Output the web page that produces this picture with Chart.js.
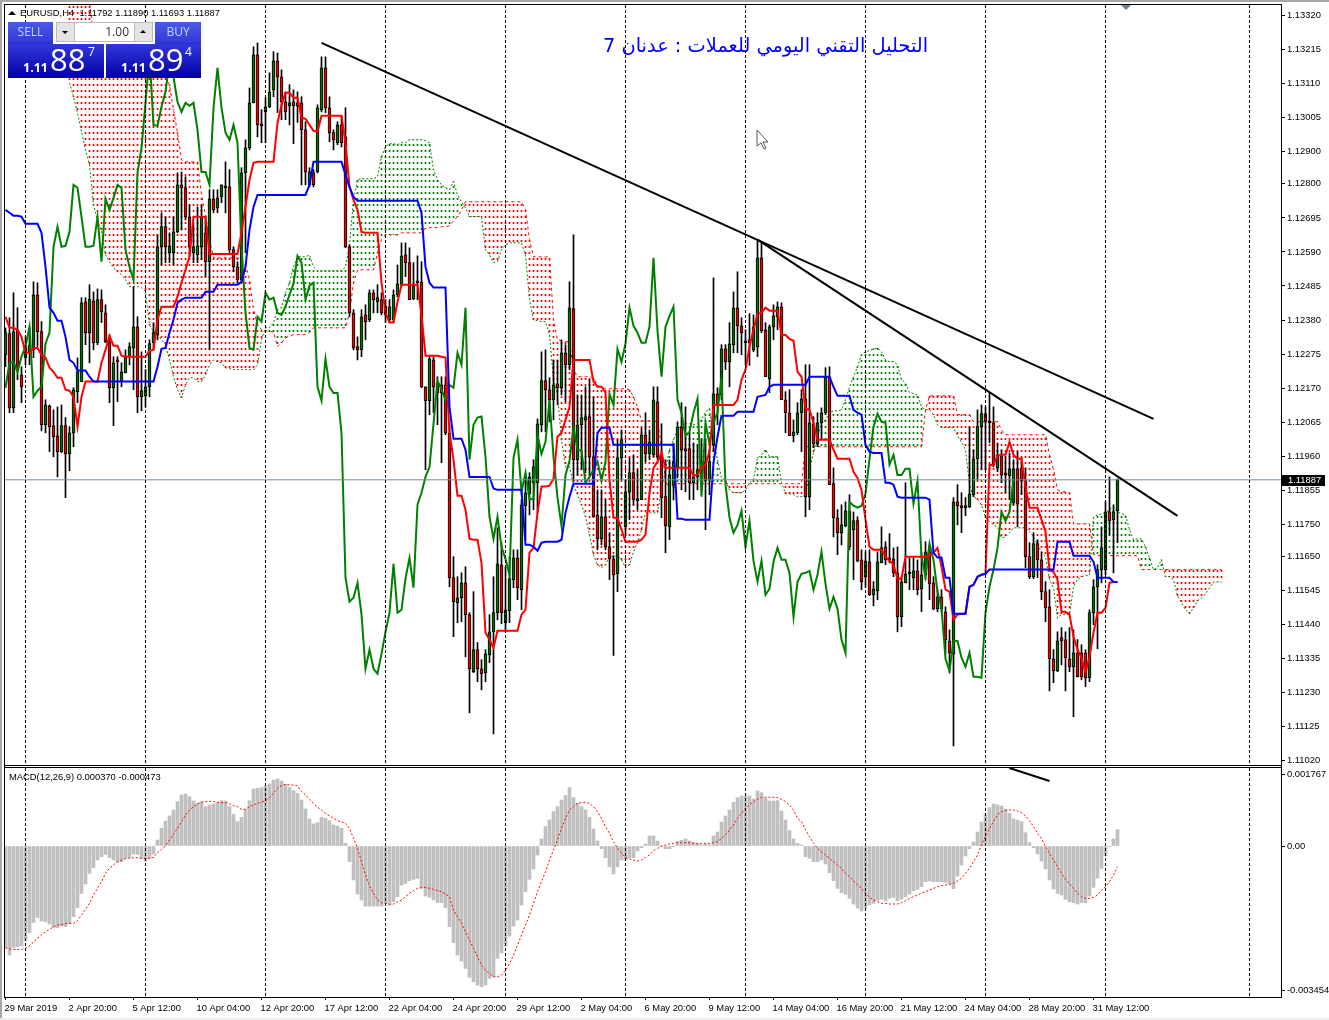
<!DOCTYPE html>
<html><head><meta charset="utf-8">
<script src="https://cdn.jsdelivr.net/npm/chart.js@4"></script>
<style>
html,body{margin:0;padding:0;background:#fff;overflow:hidden;width:1329px;height:1020px}
*{box-sizing:border-box}
canvas{position:absolute;left:0}
.abs{position:absolute}
.ln{position:absolute;background:#000}
.t{font-family:"Liberation Sans",sans-serif;font-size:9.4px;color:#000;white-space:pre;position:absolute;line-height:11px}
.p{font-family:"Open Sans",sans-serif;position:absolute;color:#fff;line-height:1;white-space:pre}
</style></head><body>
<canvas id="main" width="1329" height="766" style="top:0px"></canvas>
<canvas id="sub" width="1329" height="252" style="top:768px"></canvas>
<div class="abs" style="left:0;top:0;width:1329px;height:2px;background:#a8a8a8"></div>
<div class="abs" style="left:0;top:0;width:2px;height:1020px;background:#a8a8a8"></div>
<div class="abs" style="left:0;top:1018px;width:1329px;height:2px;background:#eeeeee"></div>
<div class="ln" style="left:4px;top:4px;width:1278px;height:1px"></div>
<div class="ln" style="left:4px;top:4px;width:1px;height:994px"></div>
<div class="ln" style="left:1281px;top:4px;width:1px;height:994px"></div>
<div class="ln" style="left:4px;top:765px;width:1278px;height:1px"></div>
<div class="ln" style="left:4px;top:767px;width:1278px;height:1px"></div>
<div class="ln" style="left:4px;top:997px;width:1278px;height:1px"></div>
<div class="abs" style="left:1121px;top:5px;width:0;height:0;border-left:5px solid transparent;border-right:5px solid transparent;border-top:5px solid #708090"></div>
<div class="abs" style="left:8px;top:11px;width:0;height:0;border-left:4px solid transparent;border-right:4px solid transparent;border-bottom:4px solid #000"></div>
<div class="t" id="hdr" style="left:20px;top:7px"></div>
<div class="t" id="mlabel" style="left:9px;top:771px"></div>
<div class="abs" dir="rtl" id="title" style="left:600px;top:29px;width:331px;text-align:center;font-family:'DejaVu Sans',sans-serif;font-size:19.4px;color:#0000ff;white-space:nowrap;line-height:34px"></div>
<svg class="abs" style="left:755px;top:128px" width="16" height="22"><path d="M2 2 L2 18 L6 15 L9 21 L11 20 L8 14 L13 14 Z" fill="#fff" stroke="#555" stroke-width="1"/></svg>
<div class="abs" style="left:8px;top:22px;width:193px;height:56px;background:#fff"></div>
<div class="abs" style="left:8px;top:22px;width:45px;height:22px;background:linear-gradient(#4a5ae8,#3238d8);border-bottom:1px solid #2a30c0"></div>
<div class="p" style="left:8px;top:26px;width:45px;text-align:center;font-size:12px;color:#c8d4ff">SELL</div>
<div class="abs" style="left:155px;top:22px;width:46px;height:22px;background:linear-gradient(#4a5ae8,#3238d8);border-bottom:1px solid #2a30c0"></div>
<div class="p" style="left:155px;top:26px;width:46px;text-align:center;font-size:12px;color:#c8d4ff">BUY</div>
<div class="abs" style="left:56px;top:22px;width:97px;height:20px;border:1px solid #bbb;background:#fff"></div>
<div class="abs" style="left:57px;top:23px;width:18px;height:18px;background:#e4e4e4;border-right:1px solid #bbb"></div>
<div class="abs" style="left:134px;top:23px;width:18px;height:18px;background:#e4e4e4;border-left:1px solid #bbb"></div>
<div class="abs" style="left:62px;top:31px;width:0;height:0;border-left:3px solid transparent;border-right:3px solid transparent;border-top:3px solid #000"></div>
<div class="abs" style="left:140px;top:30px;width:0;height:0;border-left:3px solid transparent;border-right:3px solid transparent;border-bottom:3px solid #000"></div>
<div class="p" style="left:76px;top:26px;width:53px;text-align:right;font-size:12px;color:#333">1.00</div>
<div class="abs" style="left:8px;top:44px;width:96px;height:34px;background:linear-gradient(#3338dc,#0000a4)"></div>
<div class="abs" style="left:106px;top:44px;width:95px;height:34px;background:linear-gradient(#3338dc,#0000a4)"></div>
<div class="p" style="left:23px;top:62px;font-size:12.5px;font-weight:700">1.11</div>
<div class="p" style="left:50px;top:44px;font-size:31px">88</div>
<div class="p" style="left:88px;top:46px;font-size:12px">7</div>
<div class="p" style="left:121px;top:62px;font-size:12.5px;font-weight:700">1.11</div>
<div class="p" style="left:148px;top:44px;font-size:31px">89</div>
<div class="p" style="left:185px;top:46px;font-size:12px">4</div>
<script>
// Prices are held in points above 1.11000 (1 point = 0.00001)
const BASE = 1.11, POINT = 1e-5;
const bidPrice = 1.11887;
const priceTicks = ['1.13320','1.13215','1.13110','1.13005','1.12900','1.12800','1.12695','1.12590','1.12485','1.12380','1.12275','1.12170','1.12065','1.11960','1.11855','1.11750','1.11650','1.11545','1.11440','1.11335','1.11230','1.11125','1.11020'];
const dateLabels = ['29 Mar 2019','2 Apr 20:00','5 Apr 12:00','10 Apr 04:00','12 Apr 20:00','17 Apr 12:00','22 Apr 04:00','24 Apr 20:00','29 Apr 12:00','2 May 04:00','6 May 20:00','9 May 12:00','14 May 04:00','16 May 20:00','21 May 12:00','24 May 04:00','28 May 20:00','31 May 12:00'];
const dateTickBars = [0,16,32,48,64,80,96,112,128,144,160,176,192,208,224,240,256,272];
const separatorBars = [5,35,65,95,125,155,185,215,245,275,311];
const macdTickLabels = ['0.001767','0.00','-0.003454'];
const macdTickAt = [0.00163,0,-0.00329];

const opens = [1273,1338,1109,1350,1211,1264,1282,1288,1458,1344,
1057,1115,1054,1023,974,1054,967,1032,1159,1190,
1436,1341,1439,1310,1443,1402,1313,1171,1257,1190,
1217,1267,1294,1359,1143,1146,1174,1310,1335,1606,
1668,1588,1588,1652,1797,1788,1698,1588,1581,1606,
1649,1560,1754,1726,1760,1794,1791,1597,1544,1504,
1834,1911,2050,2198,1982,2022,2038,2090,2180,2130,
2053,2041,2053,2041,2050,1967,1797,1834,1837,2029,
2158,2035,1958,1927,1982,1945,1606,1402,1298,1288,
1396,1381,1464,1436,1443,1424,1381,1381,1458,1489,
1581,1557,1446,1501,1498,1174,1131,1257,1186,1180,
1180,1032,585,508,523,569,471,295,363,304,
292,347,418,477,625,446,483,579,646,548,
807,844,878,878,1057,1193,1165,1134,1183,1171,
1279,1242,1415,949,1057,1072,1082,958,779,705,
773,680,643,597,955,742,850,909,822,826,
1026,967,964,1128,958,835,742,870,924,1050,
983,983,878,896,915,943,887,995,1152,1149,
1291,1251,1304,1418,1362,1316,1320,1288,1298,1572,
1350,1199,1359,1390,1421,1134,1094,1023,1032,1094,
1137,835,1060,998,1063,1094,1205,875,770,724,
745,791,733,761,640,588,634,532,545,631,
680,646,643,600,464,569,597,585,606,551,
594,665,569,489,526,480,390,350,819,807,
801,804,841,952,1051,1091,1066,1063,924,961,
906,900,816,921,924,884,650,588,690,640,
542,495,335,298,400,394,335,310,353,353,
353,276,477,557,610,610,788,764,792];
const highs = [1356,1387,1464,1418,1236,1328,1356,1498,1495,1375,
1134,1118,1103,1112,1118,1079,1051,1171,1263,1449,
1449,1489,1467,1476,1473,1427,1335,1267,1267,1248,
1288,1310,1483,1390,1282,1227,1319,1372,1643,1711,
1698,1649,1698,1834,1837,1822,1735,1674,1729,1735,
1698,1782,1782,1782,1797,1868,1844,1606,1560,1850,
1936,2096,2223,2235,2029,2066,2143,2208,2204,2152,
2084,2106,2090,2084,2069,1992,1850,1844,2044,2192,
2192,2069,1967,1992,2007,2035,1612,1412,1328,1412,
1427,1473,1473,1489,1464,1443,1443,1473,1550,1618,
1618,1603,1557,1578,1560,1174,1267,1267,1205,1205,
1205,1057,650,588,600,619,477,542,385,332,
363,471,588,739,693,619,650,671,671,826,
896,909,949,1075,1282,1288,1202,1257,1257,1319,
1304,1498,1643,1149,1149,1174,1196,1143,856,856,
826,724,653,1011,1041,887,955,964,918,1047,
1094,1041,1174,1174,1060,949,949,1000,1066,1125,
1112,1032,1001,995,1011,1011,980,1510,1171,1304,
1304,1372,1467,1529,1387,1350,1400,1396,1628,1618,
1372,1365,1427,1436,1433,1159,1165,1072,1125,1165,
1242,1242,1082,1094,1109,1233,1236,924,795,810,
819,841,788,773,671,665,671,573,665,742,
696,721,677,680,588,878,646,646,640,662,
696,686,588,548,548,495,424,832,872,847,
832,1051,980,1103,1118,1112,1155,1112,1001,980,
958,970,949,974,955,924,693,724,702,665,
573,548,363,418,431,418,431,424,394,378,
363,486,579,625,742,820,896,810,890];
const lows = [1236,1094,1094,1196,1125,1242,1242,1264,1298,1038,
1032,974,958,896,971,832,915,989,1125,1190,
1304,1248,1288,1304,1372,1310,1125,1054,1128,1174,
1217,1242,1165,1094,1100,1112,1143,1288,1319,1550,
1557,1557,1550,1649,1658,1689,1575,1557,1557,1566,
1514,1288,1711,1711,1742,1711,1588,1529,1495,1495,
1588,1905,2050,1945,1927,1927,2035,2069,2020,1998,
1998,1982,1924,1990,1797,1797,1791,1791,1834,2022,
2020,1930,1905,1921,1914,1603,1390,1288,1257,1267,
1319,1375,1402,1402,1396,1372,1372,1372,1452,1483,
1514,1443,1443,1443,1171,918,1088,1094,1057,940,
1026,557,403,446,449,341,168,292,264,239,
264,323,103,455,443,418,446,554,517,486,
702,779,795,785,1035,1035,1066,1072,1118,1149,
1128,1227,883,902,918,909,902,773,671,686,
671,579,345,542,887,717,764,810,795,826,
943,949,958,949,770,662,702,825,893,856,
850,826,826,856,856,733,841,974,1057,1134,
1227,1174,1279,1279,1273,1242,1240,1282,1267,1341,
1205,1156,1319,1350,1134,1032,1023,1004,1026,974,
773,795,986,989,1011,1088,872,711,656,686,
742,671,579,634,548,554,530,498,517,631,
625,631,588,418,434,569,548,548,532,480,
579,517,486,480,480,347,292,66,748,724,
776,801,835,887,918,918,1001,927,912,878,
847,826,810,742,841,616,582,582,585,517,
449,236,261,295,316,236,295,156,279,270,
249,264,440,366,569,594,717,600,693];
const closes = [1341,1109,1344,1227,1174,1298,1303,1458,1344,1057,
1118,1051,1020,974,1054,967,1032,1165,1220,1433,
1341,1445,1310,1443,1405,1313,1171,1248,1251,1220,
1267,1298,1359,1143,1162,1174,1307,1341,1606,1668,
1606,1609,1652,1797,1788,1698,1606,1606,1609,1698,
1560,1754,1720,1757,1797,1788,1597,1544,1504,1834,
1911,2050,2198,1982,1979,2038,2084,2180,2130,2053,
2022,2050,2041,2050,1967,1837,1837,1797,2035,2158,
2035,1958,1936,1982,1927,1606,1402,1294,1288,1390,
1375,1464,1443,1449,1402,1396,1421,1458,1492,1578,
1557,1443,1486,1495,1174,1131,1260,1174,1155,1155,
1032,585,511,523,569,471,304,363,304,289,
350,418,477,628,477,486,582,646,554,810,
847,896,927,1060,1193,1165,1134,1180,1171,1279,
1242,1418,949,1057,1079,1082,958,773,705,773,
680,643,594,955,1011,850,909,826,829,1026,
967,1004,1134,958,832,745,902,945,1050,980,
977,878,896,918,943,884,943,1152,1118,1291,
1251,1307,1418,1362,1341,1310,1310,1359,1572,1347,
1205,1359,1393,1421,1134,1094,1023,1035,1094,1137,
835,1063,998,1063,1094,1205,872,770,724,748,
791,680,761,637,573,637,532,551,634,677,
640,640,600,464,572,597,600,606,548,594,
665,566,489,526,489,394,353,819,807,801,
807,844,952,1051,1091,1066,1063,934,964,902,
902,921,921,813,884,650,588,690,640,542,
492,335,298,390,390,338,310,353,279,279,
276,477,557,610,677,788,760,788,887];
const tenkan = [1390,1356,1356,1350,1328,1279,1279,1294,1294,1273,
1264,1233,1220,1202,1202,1165,1162,1143,1051,1143,
1190,1190,1190,1190,1248,1288,1331,1301,1301,1270,
1267,1267,1267,1267,1267,1267,1285,1288,1381,1421,
1421,1421,1421,1452,1495,1535,1575,1699,1699,1699,
1699,1584,1584,1584,1584,1584,1584,1584,1584,1649,
1729,1813,1865,1868,1868,1868,1868,1868,1988,2044,
2081,2081,2066,2066,2004,2001,1982,1964,1961,2010,
2010,2010,2010,2010,2010,1927,1791,1751,1720,1652,
1649,1649,1649,1649,1495,1402,1372,1372,1436,1489,
1489,1489,1489,1489,1396,1270,1270,1270,1270,1267,
1264,1032,949,838,838,795,705,702,702,631,
415,394,369,421,421,421,421,421,421,471,
486,662,677,785,866,866,869,890,1020,1032,
1072,1112,1257,1257,1257,1257,1257,1190,1174,1174,
1156,887,770,770,733,696,696,696,696,702,
718,847,924,943,970,924,924,924,924,924,
924,924,900,903,927,933,974,1118,1118,1118,
1118,1118,1118,1134,1196,1227,1298,1350,1399,1402,
1418,1409,1409,1409,1334,1334,1322,1316,1220,1205,
1106,1103,1063,1011,1011,1011,1011,980,952,952,
952,952,912,893,856,764,680,671,671,671,
650,637,625,582,582,650,650,650,650,650,
650,655,662,677,619,548,542,455,471,474,
474,557,563,588,594,597,933,933,961,964,
964,1004,964,952,952,866,801,801,801,764,
727,610,603,579,480,480,471,403,363,338,
292,341,415,477,477,492,569,572,572];
const kijun = [1720,1711,1702,1702,1699,1677,1677,1677,1677,1649,
1544,1418,1402,1378,1378,1328,1257,1248,1224,1224,
1224,1205,1190,1190,1190,1190,1190,1190,1190,1190,
1190,1190,1190,1190,1190,1190,1190,1190,1236,1291,
1294,1341,1381,1433,1443,1449,1449,1449,1449,1449,
1467,1467,1467,1489,1489,1489,1489,1489,1489,1498,
1544,1658,1729,1766,1766,1766,1766,1766,1766,1766,
1766,1766,1766,1766,1766,1766,1797,1868,1868,1868,
1868,1868,1868,1868,1868,1828,1791,1760,1748,1748,
1748,1748,1748,1748,1748,1748,1748,1748,1748,1748,
1748,1748,1748,1748,1711,1544,1495,1480,1480,1480,
1480,1112,1014,1014,1014,980,896,896,896,896,
896,896,860,856,856,856,856,856,856,856,
687,687,680,668,693,696,696,696,696,702,
785,835,875,875,875,875,875,875,1032,1048,
1048,1048,995,995,995,995,995,995,995,995,
995,995,995,995,995,995,995,995,767,767,
764,764,764,764,764,764,764,940,1020,1085,
1085,1085,1085,1097,1097,1097,1097,1097,1143,1146,
1149,1174,1180,1180,1180,1180,1180,1180,1180,1180,
1180,1205,1205,1205,1205,1205,1205,1174,1146,1146,
1146,1146,1103,1094,1088,995,974,970,970,970,
878,878,872,835,832,832,832,832,832,832,
832,826,662,647,647,585,585,474,474,474,
474,557,563,588,594,597,610,610,610,610,
610,610,610,610,610,610,610,610,610,610,
610,610,610,696,696,696,696,653,653,653,
653,653,634,585,585,585,585,572,572];
const chikou = [1171,1248,1251,1220,1267,1298,1359,1143,1162,1174,
1307,1341,1606,1668,1606,1609,1652,1797,1788,1698,
1606,1606,1609,1698,1560,1754,1720,1757,1797,1788,
1597,1544,1504,1834,1911,2050,2198,1982,1979,2038,
2084,2180,2130,2053,2022,2050,2041,2050,1967,1837,
1837,1797,2035,2158,2035,1958,1936,1982,1927,1606,
1402,1294,1288,1390,1375,1464,1443,1449,1402,1396,
1421,1458,1492,1578,1557,1443,1486,1495,1174,1131,
1260,1174,1155,1155,1032,585,511,523,569,471,
304,363,304,289,350,418,477,628,477,486,
582,646,554,810,847,896,927,1060,1193,1165,
1134,1180,1171,1279,1242,1418,949,1057,1079,1082,
958,773,705,773,680,643,594,955,1011,850,
909,826,829,1026,967,1004,1134,958,832,745,
902,945,1050,980,977,878,896,918,943,884,
943,1152,1118,1291,1251,1307,1418,1362,1341,1310,
1310,1359,1572,1347,1205,1359,1393,1421,1134,1094,
1023,1035,1094,1137,835,1063,998,1063,1094,1205,
872,770,724,748,791,680,761,637,573,637,
532,551,634,677,640,640,600,464,572,597,
600,606,548,594,665,566,489,526,489,394,
353,819,807,801,807,844,952,1051,1091,1066,
1063,934,964,902,902,921,921,813,884,650,
588,690,640,542,492,335,298,390,390,338,
310,353,279,279,276,477,557,610,677,788,
760,788,887];
const spanA = [null,null,null,null,null,null,null,null,null,null,
null,null,null,null,null,null,2112,2069,2019,1961,
1905,1859,1736,1689,1652,1581,1560,1541,1529,1520,
1504,1483,1483,1483,1480,1467,1365,1344,1335,1319,
1304,1257,1205,1165,1140,1180,1202,1202,1190,1190,
1211,1242,1257,1251,1248,1233,1230,1227,1227,1227,
1227,1227,1227,1242,1319,1356,1356,1372,1412,1418,
1464,1495,1544,1575,1575,1575,1581,1544,1532,1532,
1532,1532,1532,1532,1532,1544,1612,1751,1813,1816,
1816,1816,1816,1822,1884,1915,1924,1924,1921,1927,
1927,1936,1936,1936,1936,1933,1927,1844,1813,1797,
1788,1782,1807,1766,1745,1726,1699,1699,1699,1699,
1597,1581,1557,1560,1597,1612,1618,1618,1618,1618,
1581,1443,1381,1378,1375,1375,1335,1196,1149,1011,
927,927,872,841,810,773,718,656,625,616,
625,650,650,653,640,616,625,665,693,733,
785,785,785,785,856,918,980,1011,1041,1057,
1060,1060,1057,1060,1072,1097,1106,1011,949,893,
887,856,847,847,847,856,878,887,955,964,
980,958,958,958,878,844,844,841,835,835,
835,918,970,1020,1063,1072,1094,1100,1100,1103,
1134,1174,1205,1236,1273,1282,1285,1291,1294,1282,
1257,1251,1251,1242,1196,1186,1156,1153,1149,1112,
1103,1103,1088,1057,1048,1048,1048,1048,1023,1004,
980,872,835,826,810,770,758,748,742,708,
711,724,739,739,739,739,727,711,687,665,
650,579,554,461,471,471,471,557,579,588,
591,594,770,779,782,785,795,804,788,782,
779,733,702,705,705,680,646,610,616,640,
588,588,579,529,508,486,474,492,514,523,
535,554,572,572,572];
const spanB = [null,null,null,null,null,null,null,null,null,null,
null,null,null,null,null,null,2370,2370,2370,2370,
2370,2370,2245,2245,2245,2245,2245,2245,2245,2245,
2245,2245,2245,2245,2245,2245,2245,2245,2245,2183,
2127,2106,2029,1958,1874,1868,1868,1868,1868,1766,
1705,1628,1572,1572,1572,1572,1572,1572,1572,1569,
1550,1504,1412,1365,1350,1347,1344,1344,1298,1310,
1325,1331,1335,1335,1335,1335,1341,1356,1356,1356,
1356,1356,1356,1356,1356,1356,1402,1495,1535,1535,
1535,1535,1535,1587,1628,1643,1643,1643,1643,1649,
1649,1649,1649,1649,1649,1662,1665,1665,1665,1668,
1668,1671,1686,1699,1720,1745,1745,1745,1745,1745,
1745,1745,1745,1745,1745,1745,1745,1745,1745,1745,
1720,1628,1575,1575,1575,1575,1575,1381,1319,1316,
1313,1313,1227,1205,1205,1205,1205,1202,1177,1174,
1168,1168,1168,1168,1168,1168,1165,1143,1112,1069,
1069,1069,1069,1066,989,887,856,859,875,875,
875,875,875,875,875,875,875,875,875,875,
875,875,875,875,875,875,875,875,875,875,
875,875,875,875,875,875,875,875,875,875,
989,989,989,989,989,989,989,989,989,989,
989,989,989,989,989,989,989,989,989,989,
989,989,989,989,989,989,989,989,989,989,
1103,1146,1146,1146,1146,1146,1146,1146,1088,1088,
1088,1088,1066,1066,1066,1066,1066,1066,1066,1041,
1026,1026,1026,1026,1026,1026,1026,1026,1026,1026,
1026,964,918,856,850,850,847,751,751,751,
751,751,656,653,653,653,653,653,653,653,
653,653,653,653,610,610,610,610,610,610,
610,610,610,610,610,610,610,610,610,610,
610,610,610,610,610];
// MACD values are in millionths
const MILLI = 1e-6;
const macd = [-2310,-2485,-2310,-2295,-2272,-2158,-1976,-1740,-1626,-1710,
-1725,-1778,-1854,-1862,-1824,-1839,-1763,-1611,-1406,-1079,
-866,-623,-494,-319,-243,-190,-266,-319,-372,-357,
-281,-258,-182,-190,-281,-342,-281,-182,137,403,
570,684,821,1011,1163,1186,1125,1026,973,1011,
897,935,958,988,1034,1026,897,722,555,654,
836,1034,1300,1315,1330,1368,1414,1505,1528,1482,
1406,1330,1262,1201,1049,844,616,502,532,654,
631,578,479,456,403,61,-357,-775,-1094,-1231,
-1368,-1368,-1368,-1368,-1368,-1307,-1345,-1269,-1155,-889,
-851,-790,-760,-737,-965,-1140,-1170,-1231,-1292,-1292,
-1406,-1839,-2204,-2485,-2622,-2789,-2994,-3093,-3169,-3207,
-3169,-3017,-2979,-2561,-2432,-2280,-2052,-1824,-1687,-1345,
-1041,-760,-524,-205,160,441,593,783,897,1049,
1148,1330,1102,973,897,821,654,388,114,-61,
-266,-471,-638,-471,-319,-319,-266,-266,-114,-38,
46,228,228,114,-15,-61,-61,-15,99,129,
160,114,76,61,30,46,30,228,319,547,
684,821,996,1102,1140,1140,1140,1072,1254,1216,
1087,1026,1026,1034,798,593,350,160,61,23,
-243,-281,-357,-357,-319,-410,-608,-790,-965,-1064,
-1102,-1193,-1322,-1414,-1482,-1421,-1345,-1307,-1231,-1208,
-1254,-1193,-1170,-1246,-1208,-1155,-1094,-1018,-988,-927,
-813,-798,-813,-813,-813,-828,-866,-973,-684,-433,
-228,-61,91,319,547,730,874,958,935,912,
844,745,616,593,555,304,76,-38,-182,-342,
-524,-775,-980,-1079,-1117,-1216,-1269,-1292,-1322,-1292,
-1292,-1140,-942,-730,-509,-228,-15,160,370];
const signal = [-2318,-2341,-2356,-2356,-2356,-2333,-2272,-2189,-2105,-2029,
-1953,-1900,-1839,-1801,-1786,-1771,-1763,-1763,-1702,-1573,
-1444,-1307,-1117,-965,-813,-623,-509,-433,-357,-319,
-289,-274,-266,-266,-281,-289,-281,-258,-152,-76,
0,137,274,403,555,707,821,897,958,996,
1011,1018,1011,996,988,988,958,920,897,836,
836,897,935,973,996,1034,1110,1201,1315,1376,
1406,1391,1391,1368,1239,1163,1064,973,882,821,
745,684,631,578,555,517,403,175,-53,-357,
-661,-912,-1079,-1231,-1292,-1307,-1330,-1322,-1269,-1231,
-1155,-1079,-1018,-965,-950,-942,-965,-988,-1018,-1041,
-1094,-1155,-1459,-1611,-1763,-1953,-2143,-2333,-2523,-2713,
-2827,-2903,-2979,-2979,-2941,-2842,-2675,-2485,-2257,-2029,
-1801,-1573,-1307,-1041,-813,-585,-319,-91,137,403,
631,821,897,973,988,996,973,897,783,631,
441,289,99,-53,-167,-258,-296,-319,-342,-319,
-258,-205,-106,-53,0,23,46,61,76,76,
76,76,61,53,61,61,61,76,99,175,
251,365,479,631,745,859,935,1011,1064,1110,
1110,1110,1110,1102,1064,1011,935,821,631,555,
365,213,61,-53,-129,-205,-281,-357,-433,-509,
-623,-699,-790,-889,-965,-1079,-1170,-1231,-1269,-1307,
-1307,-1322,-1322,-1322,-1292,-1246,-1193,-1155,-1117,-1079,
-1041,-1003,-965,-927,-904,-889,-874,-851,-790,-737,
-623,-509,-357,-205,23,213,403,555,707,783,
806,821,821,798,760,684,578,441,289,175,
-15,-167,-319,-471,-623,-760,-866,-965,-1079,-1155,
-1193,-1193,-1170,-1117,-1003,-927,-813,-661,-473];
// Two trend lines on the price pane and the stray stub on the MACD pane: [bar, points]
const trendA = [[79,2235],[287,1075]];
const trendB = [[188,1628],[293,776]];
const macdStub = [[251,1777],[261,1480]];

const titleText = 'التحليل التقني اليومي للعملات : عدنان 7';
const headerText = 'EURUSD,H4  1.11792 1.11890 1.11693 1.11887';
const macdLabel = 'MACD(12,26,9) 0.000370 -0.000473';

document.getElementById('title').textContent = titleText;
document.getElementById('hdr').textContent = headerText;
document.getElementById('mlabel').textContent = macdLabel;

const pr = p => p === null ? null : BASE + p * POINT;
const series = arr => arr.map((v, i) => ({x: i, y: pr(v)}));
const FONT = {family: '"Liberation Sans", sans-serif', size: 9.4};
const X = {min: -0.125, max: 318.875};

function hatch(color) {
  const c = document.createElement('canvas'); c.width = 1; c.height = 6;
  const g = c.getContext('2d'); g.fillStyle = color; g.fillRect(0, 0, 1, 2);
  return g.createPattern(c, 'repeat');
}
const greenHatch = hatch('#008000'), redHatch = hatch('#ff0000');

const cloud = spanA.map((a, i) => a === null || spanB[i] === null ? null : ({x: i, y: [pr(a), pr(spanB[i])], up: a > spanB[i]})).filter(Boolean);
const wicks = highs.map((h, i) => ({x: i, y: [pr(lows[i]), pr(h)]}));
const bodies = opens.map((o, i) => ({x: i, y: [pr(o), pr(closes[i])], up: closes[i] >= o}));
const line = (data, color, width, order, dash) => ({type: 'line', data, borderColor: color, borderWidth: width, pointRadius: 0, tension: 0, order, borderDash: dash || [], fill: false, spanGaps: false});

const squash = s => { s.paddingLeft = s.paddingRight = s.paddingTop = s.paddingBottom = 0; };

const bidPlugin = {
  id: 'bid',
  afterDraw(chart) {
    const y = Math.round(chart.scales.y.getPixelForValue(bidPrice));
    const c = chart.ctx; c.save();
    c.fillStyle = '#000'; c.fillRect(1282, y - 5, 43, 11);
    c.fillStyle = '#fff'; c.font = '9.4px "Liberation Sans", sans-serif'; c.textBaseline = 'middle'; c.textAlign = 'left';
    c.fillText(bidPrice.toFixed(5), 1288, y + 0.5);
    c.restore();
  }
};

new Chart(document.getElementById('main'), {
  type: 'bar',
  plugins: [bidPlugin],
  data: {datasets: [
    {type: 'bar', data: cloud, grouped: false, barThickness: 1, borderWidth: 0, order: 9,
      backgroundColor: c => (c.raw && c.raw.up) ? greenHatch : redHatch},
    line(series(spanA), '#008000', 1, 8, [2, 2]),
    line(series(spanB), '#ff0000', 1, 8, [3, 3]),
    {type: 'bar', data: wicks, grouped: false, barThickness: 1, borderWidth: 0, backgroundColor: '#000', order: 7},
    {type: 'bar', data: bodies, grouped: false, barThickness: 3, minBarLength: 2, borderWidth: 1, borderSkipped: false, borderColor: '#000', order: 6,
      backgroundColor: c => (c.raw && c.raw.up) ? '#007000' : '#ee0000'},
    line(series(chikou), '#008000', 2, 5),
    line(series(tenkan), '#ff0000', 2, 4),
    line(series(kijun), '#0000ff', 2, 3),
    line([{x: X.min, y: bidPrice}, {x: X.max, y: bidPrice}], '#778899', 1, 2),
    line(trendA.map(d => ({x: d[0], y: pr(d[1])})), '#000', 2, 1),
    line(trendB.map(d => ({x: d[0], y: pr(d[1])})), '#000', 2, 1)
  ]},
  options: {
    responsive: false, animation: false, devicePixelRatio: 1, events: [],
    layout: {padding: {left: 5, top: 5, right: 0, bottom: 0}},
    plugins: {legend: {display: false}, tooltip: {enabled: false}, title: {display: false}},
    scales: {
      x: {type: 'linear', min: X.min, max: X.max, offset: false,
        grid: {offset: false, color: '#000', lineWidth: 1, drawTicks: false, z: 1},
        border: {display: false, dash: [3, 2]},
        ticks: {display: false},
        afterBuildTicks: s => { s.ticks = separatorBars.map(value => ({value})); },
        afterFit: s => { s.height = 0; squash(s); }},
      y: {type: 'linear', position: 'right', min: 1.11004, max: 1.13352,
        grid: {drawOnChartArea: false, color: '#000', tickLength: 4},
        border: {display: false},
        ticks: {color: '#000', font: FONT, padding: 2, align: 'center', crossAlign: 'near', autoSkip: false, callback: v => v.toFixed(5)},
        afterBuildTicks: s => { s.ticks = priceTicks.map(t => ({value: +t})); },
        afterFit: s => { s.width = 48; squash(s); }}
    }
  }
});

new Chart(document.getElementById('sub'), {
  type: 'bar',
  data: {datasets: [
    {type: 'bar', data: macd.map((v, i) => ({x: i, y: v * MILLI})), grouped: false, barThickness: 3, borderWidth: 0, backgroundColor: '#c0c0c0', order: 3},
    line(signal.map((v, i) => ({x: i, y: v * MILLI})), '#ff0000', 1, 2, [2, 2]),
    line(macdStub.map(d => ({x: d[0], y: d[1] * MILLI})), '#000', 2, 1)
  ]},
  options: {
    responsive: false, animation: false, devicePixelRatio: 1, events: [],
    layout: {padding: {left: 5, top: 0, right: 0, bottom: 0}},
    plugins: {legend: {display: false}, tooltip: {enabled: false}, title: {display: false}},
    scales: {
      x: {type: 'linear', min: X.min, max: X.max, offset: false, position: 'bottom',
        grid: {offset: false, drawOnChartArea: false, color: '#000', tickLength: 3},
        border: {display: false},
        ticks: {color: '#000', font: FONT, padding: 3, align: 'start', labelOffset: -1, autoSkip: false, maxRotation: 0, minRotation: 0,
          callback: v => dateLabels[dateTickBars.indexOf(v)]},
        afterBuildTicks: s => { s.ticks = dateTickBars.map(value => ({value})); },
        afterFit: s => { s.height = 23; squash(s); }},
      x2: {type: 'linear', min: X.min, max: X.max, offset: false, position: 'bottom',
        grid: {offset: false, color: '#000', lineWidth: 1, drawTicks: false, z: 1},
        border: {display: false, dash: [3, 2]},
        ticks: {display: false},
        afterBuildTicks: s => { s.ticks = separatorBars.map(value => ({value})); },
        afterFit: s => { s.height = 0; squash(s); }},
      y: {type: 'linear', position: 'right', min: -0.00344, max: 0.001777,
        grid: {drawOnChartArea: false, color: '#000', tickLength: 4},
        border: {display: false},
        ticks: {color: '#000', font: FONT, padding: 2, autoSkip: false, crossAlign: 'near',
          callback: v => macdTickLabels[macdTickAt.indexOf(v)]},
        afterBuildTicks: s => { s.ticks = macdTickAt.map(value => ({value})); },
        afterFit: s => { s.width = 48; squash(s); }}
    }
  }
});
</script>
</body></html>
